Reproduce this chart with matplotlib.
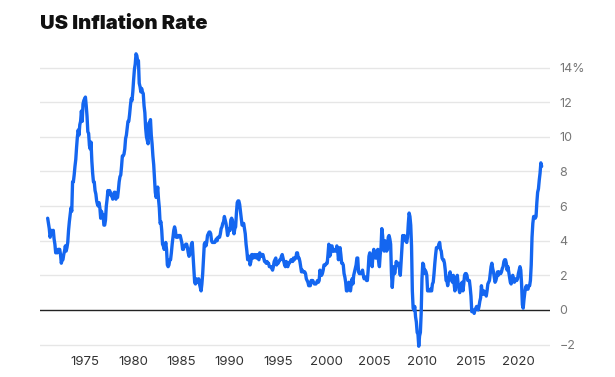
import matplotlib
matplotlib.use("Agg")
import matplotlib.pyplot as plt
import numpy as np

# Monthly US CPI inflation rate (% year over year), Jan 1971 onward
start_year = 1971
infl_1970s = [
    5.3, 5.0, 4.7, 4.2, 4.4, 4.6, 4.4, 4.6, 4.1, 3.8, 3.3, 3.4,
    3.3, 3.5, 3.5, 3.5, 3.2, 2.7, 2.9, 2.9, 3.2, 3.4, 3.7, 3.4,
    3.6, 3.9, 4.6, 5.1, 5.5, 5.9, 5.7, 7.4, 7.4, 7.8, 8.3, 8.7,
    9.4, 10.0, 10.4, 10.1, 10.7, 10.9, 11.5, 10.9, 11.9, 12.1, 12.2, 12.3,
    11.8, 11.2, 10.3, 10.2, 9.5, 9.3, 9.7, 8.6, 7.9, 7.4, 7.4, 6.9,
    6.7, 6.3, 6.1, 6.0, 6.2, 5.9, 5.3, 5.7, 5.5, 5.5, 4.9, 4.9,
    5.2, 6.0, 6.4, 6.9, 6.7, 6.9, 6.8, 6.6, 6.6, 6.4, 6.7, 6.8,
    6.8, 6.4, 6.6, 6.5, 6.9, 7.4, 7.7, 7.8, 8.3, 8.9, 8.9, 9.0,
    9.3, 9.9, 10.1, 10.5, 10.9, 10.9, 11.3, 11.8, 12.2, 12.1, 12.6, 13.3,
]
infl_1980s = [
    13.9, 14.2, 14.8, 14.7, 14.4, 14.4, 13.1, 12.9, 12.6, 12.8, 12.6, 12.5,
    11.8, 11.4, 10.5, 10.0, 9.8, 9.6, 10.8, 10.8, 11.0, 10.1, 9.6, 8.9,
    8.4, 7.6, 6.8, 6.5, 6.7, 7.1, 6.4, 5.9, 5.0, 5.1, 4.6, 3.8,
    3.7, 3.5, 3.6, 3.9, 3.5, 2.6, 2.5, 2.6, 2.9, 2.9, 3.3, 3.8,
    4.2, 4.6, 4.8, 4.6, 4.2, 4.2, 4.2, 4.3, 4.3, 4.3, 4.1, 3.9,
    3.5, 3.5, 3.7, 3.7, 3.8, 3.8, 3.6, 3.3, 3.1, 3.2, 3.5, 3.8,
    3.9, 3.1, 2.2, 1.6, 1.5, 1.8, 1.6, 1.6, 1.8, 1.5, 1.3, 1.1,
    1.5, 2.1, 3.0, 3.8, 3.9, 3.7, 3.9, 4.3, 4.4, 4.5, 4.5, 4.4,
    4.0, 3.9, 3.9, 3.9, 3.9, 4.0, 4.1, 4.0, 4.2, 4.2, 4.2, 4.4,
    4.7, 4.8, 5.0, 5.1, 5.4, 5.2, 5.0, 4.7, 4.3, 4.5, 4.7, 4.6,
]
infl_1990s = [
    5.2, 5.3, 5.2, 4.7, 4.4, 4.7, 4.8, 5.6, 6.2, 6.3, 6.3, 6.1,
    5.7, 5.3, 4.9, 4.9, 5.0, 4.7, 4.4, 3.8, 3.4, 2.9, 3.0, 3.1,
    2.6, 2.8, 3.2, 3.2, 3.0, 3.1, 3.2, 3.1, 3.0, 3.2, 3.0, 2.9,
    3.3, 3.2, 3.1, 3.2, 3.2, 3.0, 2.8, 2.8, 2.7, 2.8, 2.7, 2.7,
    2.5, 2.5, 2.5, 2.4, 2.3, 2.5, 2.8, 2.9, 3.0, 2.6, 2.7, 2.7,
    2.8, 2.9, 2.9, 3.1, 3.2, 3.0, 2.8, 2.6, 2.5, 2.8, 2.6, 2.5,
    2.7, 2.7, 2.8, 2.9, 2.9, 2.8, 3.0, 2.9, 3.0, 3.0, 3.3, 3.3,
    3.0, 3.0, 2.8, 2.5, 2.2, 2.3, 2.2, 2.2, 2.2, 2.1, 1.8, 1.7,
    1.6, 1.4, 1.4, 1.4, 1.7, 1.7, 1.7, 1.6, 1.5, 1.5, 1.5, 1.6,
    1.7, 1.6, 1.7, 2.3, 2.1, 2.0, 2.1, 2.3, 2.6, 2.6, 2.6, 2.7,
]
infl_2000s = [
    2.7, 3.2, 3.8, 3.1, 3.2, 3.7, 3.7, 3.4, 3.5, 3.4, 3.4, 3.4,
    3.7, 3.5, 2.9, 3.3, 3.6, 3.2, 2.7, 2.7, 2.6, 2.1, 1.9, 1.6,
    1.1, 1.1, 1.5, 1.6, 1.2, 1.1, 1.5, 1.8, 1.5, 2.0, 2.2, 2.4,
    2.6, 3.0, 3.0, 2.2, 2.1, 2.1, 2.1, 2.2, 2.3, 2.0, 1.8, 1.9,
    1.9, 1.7, 1.7, 2.3, 3.1, 3.3, 3.0, 2.7, 2.5, 3.2, 3.5, 3.3,
    3.0, 3.0, 3.1, 3.5, 2.8, 2.5, 3.2, 3.6, 4.7, 4.3, 3.5, 3.4,
    4.0, 3.6, 3.4, 3.5, 4.2, 4.3, 4.1, 3.8, 2.1, 1.3, 2.0, 2.5,
    2.1, 2.4, 2.8, 2.6, 2.7, 2.7, 2.4, 2.0, 2.8, 3.5, 4.3, 4.1,
    4.3, 4.0, 4.0, 3.9, 4.2, 5.0, 5.6, 5.4, 4.9, 3.7, 1.1, 0.1,
    0.0, 0.2, -0.4, -0.7, -1.3, -1.4, -2.1, -1.5, -1.3, -0.2, 1.8, 2.7,
]
infl_2010s = [
    2.6, 2.1, 2.3, 2.2, 2.0, 1.1, 1.2, 1.1, 1.1, 1.2, 1.1, 1.5,
    1.6, 2.1, 2.7, 3.2, 3.6, 3.6, 3.6, 3.8, 3.9, 3.5, 3.4, 3.0,
    2.9, 2.9, 2.7, 2.3, 1.7, 1.7, 1.4, 1.7, 2.0, 2.2, 1.8, 1.7,
    1.6, 2.0, 1.5, 1.1, 1.4, 1.8, 2.0, 1.5, 1.2, 1.0, 1.2, 1.5,
    1.6, 1.1, 1.5, 2.0, 2.1, 2.1, 2.0, 1.7, 1.7, 1.7, 1.3, 0.8,
    -0.1, 0.0, -0.1, -0.2, 0.0, 0.1, 0.2, 0.2, 0.0, 0.2, 0.5, 0.7,
    1.4, 1.0, 0.9, 1.1, 1.0, 1.0, 0.8, 1.1, 1.5, 1.6, 1.7, 2.1,
    2.5, 2.7, 2.4, 2.2, 1.9, 1.6, 1.7, 1.9, 2.2, 2.0, 2.2, 2.1,
    2.1, 2.2, 2.4, 2.5, 2.8, 2.9, 2.9, 2.7, 2.3, 2.5, 2.2, 1.9,
    1.6, 1.5, 1.9, 2.0, 1.8, 1.6, 1.8, 1.7, 1.7, 1.8, 2.1, 2.3,
]
infl_2020s = [
    2.5, 2.3, 1.5, 0.3, 0.1, 0.6, 1.0, 1.3, 1.4, 1.2, 1.2, 1.4,
    1.4, 1.7, 2.6, 4.2, 5.0, 5.4, 5.4, 5.3, 5.4, 6.2, 6.8, 7.0,
    7.5, 7.9, 8.5, 8.3,
]

year_ticks = [1975, 1980, 1985, 1990, 1995, 2000, 2005, 2010, 2015, 2020]
y_ticks = [-2, 0, 2, 4, 6, 8, 10, 12, 14]
y_tick_labels = ["\u22122", "0", "2", "4", "6", "8", "10", "12", "14%"]

values = np.array(infl_1970s + infl_1980s + infl_1990s + infl_2000s
                  + infl_2010s + infl_2020s)
dates = start_year + (np.arange(len(values)) + 1.5) / 12.0

plt.rcParams["font.family"] = ["Inter", "DejaVu Sans"]

fig = plt.figure(figsize=(6.15, 3.77), dpi=100)
ax = fig.add_axes([40 / 615, 1 - 348 / 377, 510 / 615, (348 - 46.9) / 377])

ax.set_xlim(1970.33, 2023.24)
ax.set_ylim(-2.2, 15.2)

for yv in y_ticks:
    if yv == 0:
        continue
    ax.axhline(yv, color="#e6e6e6", lw=1.0, zorder=1)
ax.axhline(0, color="#222222", lw=1.0, zorder=2)

ax.plot(dates, values, color="#1466f0", lw=2.4, zorder=3,
        solid_joinstyle="round", solid_capstyle="round")

for s in ax.spines.values():
    s.set_visible(False)

ax.set_xticks(year_ticks)
ax.set_xticklabels([str(y) for y in year_ticks])
ax.tick_params(axis="x", length=0, pad=6, labelsize=9.5, labelcolor="#333333")

ax.yaxis.tick_right()
ax.set_yticks(y_ticks)
ax.set_yticklabels(y_tick_labels)
ax.tick_params(axis="y", length=0, pad=7, labelsize=9, labelcolor="#777777")

fig.text(40 / 615, 1 - 24 / 377, "US Inflation Rate", fontsize=14.5,
         fontweight=900, color="#111111", va="center", ha="left")

fig.savefig("out.png", dpi=100)
